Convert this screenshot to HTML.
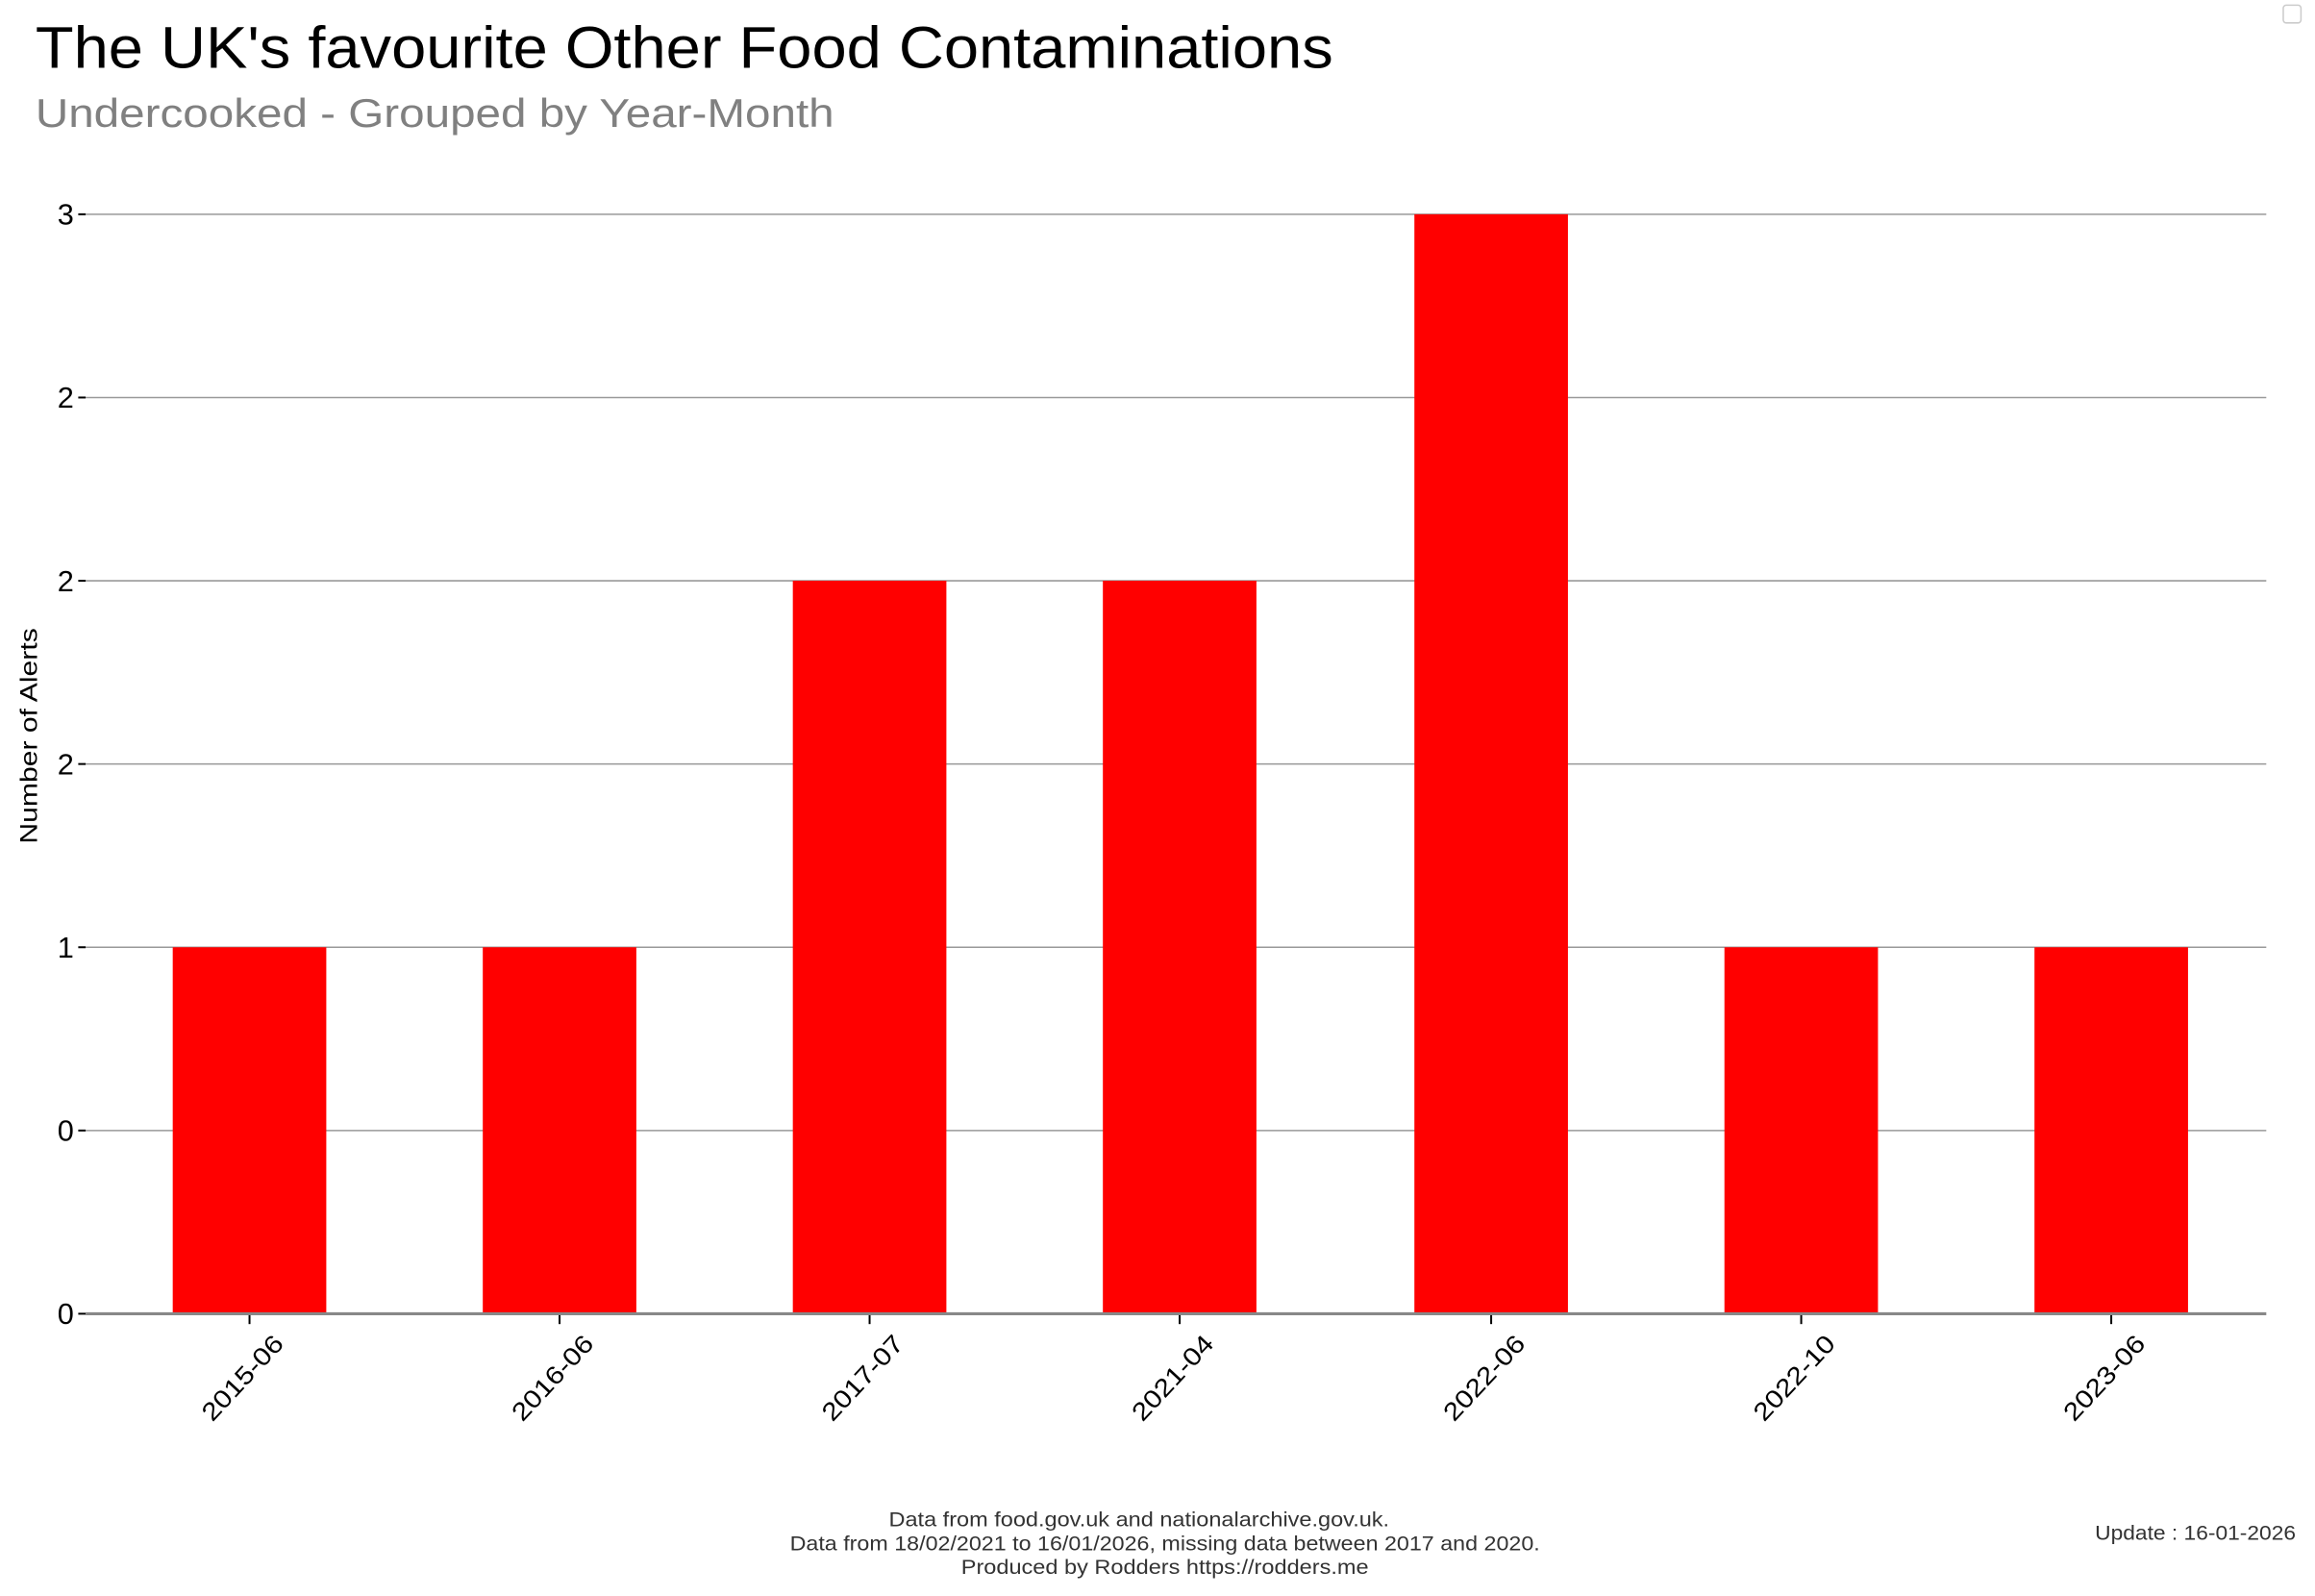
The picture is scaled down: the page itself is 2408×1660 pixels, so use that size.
<!DOCTYPE html>
<html><head><meta charset="utf-8"><style>html,body{margin:0;padding:0;background:#fff;}svg{display:block}</style></head>
<body>
<svg width="2408" height="1660" viewBox="0 0 1568 1080" preserveAspectRatio="none" xmlns="http://www.w3.org/2000/svg" font-family="'Liberation Sans', 'DejaVu Sans', sans-serif">
<rect width="1568" height="1080" fill="#fff"/>
<text x="24" y="46" font-size="40" fill="#000" textLength="879" lengthAdjust="spacingAndGlyphs">The UK's favourite Other Food Contaminations</text>
<text x="24" y="86" font-size="27" fill="#808080" textLength="541" lengthAdjust="spacingAndGlyphs">Undercooked - Grouped by Year-Month</text>
<rect x="1546.5" y="3.5" width="12" height="12" rx="2" fill="#fff" stroke="#ccc"/>
<g stroke="#999" stroke-width="1">
<line x1="58" x2="1535" y1="145" y2="145"/><line x1="58" x2="1535" y1="269" y2="269"/>
<line x1="58" x2="1535" y1="393" y2="393"/><line x1="58" x2="1535" y1="517" y2="517"/>
<line x1="58" x2="1535" y1="641" y2="641"/><line x1="58" x2="1535" y1="765" y2="765"/>
</g>
<g stroke="#000" stroke-width="1.3">
<line x1="53" x2="58" y1="145" y2="145"/><line x1="53" x2="58" y1="269" y2="269"/>
<line x1="53" x2="58" y1="393" y2="393"/><line x1="53" x2="58" y1="517" y2="517"/>
<line x1="53" x2="58" y1="641" y2="641"/><line x1="53" x2="58" y1="765" y2="765"/>
<line x1="53" x2="58" y1="889" y2="889"/>
</g>
<g font-size="20" fill="#000" text-anchor="end">
<text x="50" y="152">3</text><text x="50" y="276">2</text><text x="50" y="400">2</text>
<text x="50" y="524">2</text><text x="50" y="648">1</text><text x="50" y="772">0</text><text x="50" y="896">0</text>
</g>
<g fill="#ff0000">
<rect x="117" y="641" width="104" height="248"/>
<rect x="327" y="641" width="104" height="248"/>
<rect x="537" y="393" width="104" height="496"/>
<rect x="747" y="393" width="104" height="496"/>
<rect x="958" y="145" width="104" height="744"/>
<rect x="1168" y="641" width="104" height="248"/>
<rect x="1378" y="641" width="104" height="248"/>
</g>
<line x1="58" x2="1535" y1="889" y2="889" stroke="#888" stroke-width="2"/>
<g stroke="#000" stroke-width="1.3">
<line x1="169" x2="169" y1="890" y2="896"/><line x1="379" x2="379" y1="890" y2="896"/>
<line x1="589" x2="589" y1="890" y2="896"/><line x1="799" x2="799" y1="890" y2="896"/>
<line x1="1010" x2="1010" y1="890" y2="896"/><line x1="1220" x2="1220" y1="890" y2="896"/>
<line x1="1430" x2="1430" y1="890" y2="896"/>
</g>
<g font-size="17" fill="#000" text-anchor="end">
<text transform="translate(193,910) rotate(-47)" textLength="72" lengthAdjust="spacingAndGlyphs">2015-06</text>
<text transform="translate(403,910) rotate(-47)" textLength="72" lengthAdjust="spacingAndGlyphs">2016-06</text>
<text transform="translate(613,910) rotate(-47)" textLength="72" lengthAdjust="spacingAndGlyphs">2017-07</text>
<text transform="translate(823,910) rotate(-47)" textLength="72" lengthAdjust="spacingAndGlyphs">2021-04</text>
<text transform="translate(1034,910) rotate(-47)" textLength="72" lengthAdjust="spacingAndGlyphs">2022-06</text>
<text transform="translate(1244,910) rotate(-47)" textLength="72" lengthAdjust="spacingAndGlyphs">2022-10</text>
<text transform="translate(1454,910) rotate(-47)" textLength="72" lengthAdjust="spacingAndGlyphs">2023-06</text>
</g>
<text transform="translate(25,498) rotate(-90)" font-size="16" text-anchor="middle" fill="#000" textLength="146" lengthAdjust="spacingAndGlyphs">Number of Alerts</text>
<g font-size="14" fill="#333" text-anchor="middle">
<text x="771.5" y="1033" textLength="339" lengthAdjust="spacingAndGlyphs">Data from food.gov.uk and nationalarchive.gov.uk.</text>
<text x="789" y="1049" textLength="508" lengthAdjust="spacingAndGlyphs">Data from 18/02/2021 to 16/01/2026, missing data between 2017 and 2020.</text>
<text x="789" y="1065" textLength="276" lengthAdjust="spacingAndGlyphs">Produced by Rodders https://rodders.me</text>
</g>
<text x="1555" y="1042" font-size="14" fill="#333" text-anchor="end" textLength="136" lengthAdjust="spacingAndGlyphs">Update : 16-01-2026</text>
</svg>
</body></html>
